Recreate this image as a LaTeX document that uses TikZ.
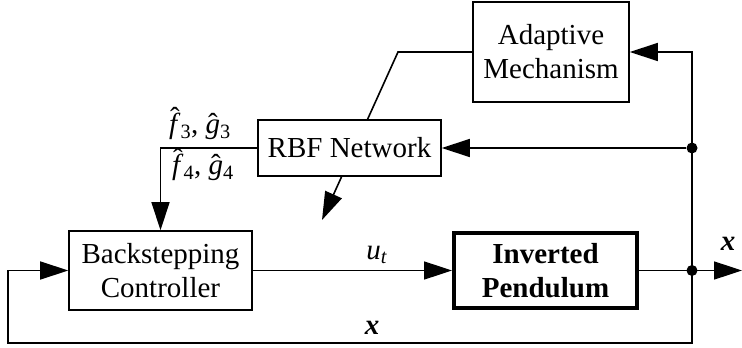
\documentclass[tikz,border=0pt]{standalone}
\usepackage{fontspec}
\setmainfont{Liberation Serif}
\usetikzlibrary{arrows.meta,backgrounds}
\tikzset{blk/.style={draw,line width=1.6pt,fill=white,inner sep=0pt,
    align=center,font=\fontsize{29}{34}\selectfont}}
\tikzset{sig/.style={line width=1.6pt,
    -{Triangle[length=28pt,width=18pt]}}}
\tikzset{jdot/.style={circle,fill,inner sep=0pt,minimum size=11pt}}
\tikzset{lbl/.style={inner sep=0pt,font=\fontsize{29}{34}\selectfont}}
\newcommand{\hatit}[2]{\ooalign{\textit{#1}\cr
    \hidewidth\raisebox{#2}{\char"02C6}\hidewidth\cr}}

\begin{document}
\begin{tikzpicture}[x=1pt,y=-1pt]
\useasboundingbox (0,0) rectangle (742,348);

\pgfmathsetmacro{\xj}{692}
\pgfmathsetmacro{\xl}{8}
\pgfmathsetmacro{\yb}{343}

% ブロック
\node[blk,minimum width=156pt,minimum height=100pt] (adapt) at (551,52)
    {Adaptive\\Mechanism};
\node[blk,minimum width=183pt,minimum height=56pt] (rbf) at (349.5,148)
    {RBF Network};
\node[blk,minimum width=183pt,minimum height=79pt] (back) at (160.5,270.5)
    {Backstepping\\Controller};
\node[blk,line width=4pt,minimum width=183pt,minimum height=75pt] (pend)
    at (545.5,270.5) {\textbf{Inverted}\\\textbf{Pendulum}};

% 分岐点
\node[jdot] (j1) at (\xj,148) {};
\node[jdot] (j2) at (\xj,270.5) {};
\coordinate (out) at (742,270.5);
\coordinate (top) at (\xj,52);
\coordinate (bot) at (\xj,\yb);
\coordinate (lb) at (\xl,\yb);
\coordinate (lt) at (\xl,270.5);
\coordinate (fc) at (back.north |- rbf.west);
\coordinate (bend) at (398,52);
\coordinate (tip) at (322,220);

% 信号線
\draw[sig] (back.east) -- (pend.west);
\draw[sig] (pend.east) -- (out);
\draw[sig] (bot) -- (top) -- (adapt.east);
\draw[sig] (j1) -- (rbf.east);
\draw[sig] (rbf.west) -- (fc) -- (back.north);
\draw[sig] (j2) -- (bot) -- (lb) -- (lt) -- (back.west);

% 適応則の矢印（RBFの後ろ）
\begin{pgfonlayer}{background}
\draw[sig] (adapt.west) -- (bend) -- (tip);
\end{pgfonlayer}

% ラベル
\node[lbl] (f3) at (200,126)
    {\hatit{f}{0.22em}\textsubscript{3}, \hatit{g}{0em}\textsubscript{3}};
\node[lbl] (f4) at (203,167)
    {\hatit{f}{0.22em}\textsubscript{4}, \hatit{g}{0em}\textsubscript{4}};
\node[lbl] (ut) at (377,255) {\textit{u}\textsubscript{\textit{t}}};
\node[lbl] (xo) at (728,244) {\textbf{\textit{x}}};
\node[lbl] (xf) at (372,328) {\textbf{\textit{x}}};

\end{tikzpicture}
\end{document}
